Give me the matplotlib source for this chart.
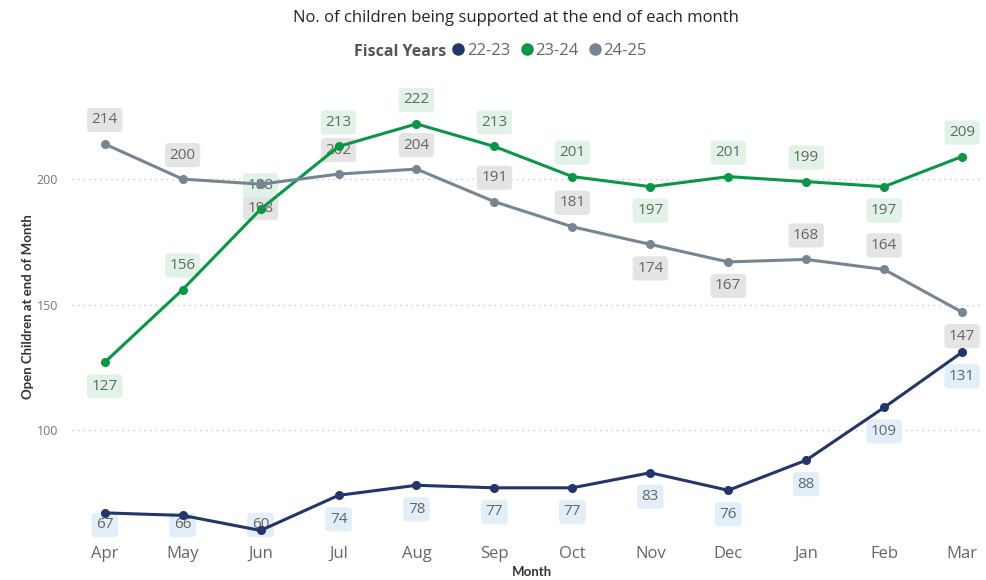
import matplotlib
matplotlib.use("Agg")
import matplotlib.pyplot as plt
from matplotlib.lines import Line2D

months = ["Apr", "May", "Jun", "Jul", "Aug", "Sep", "Oct", "Nov", "Dec", "Jan", "Feb", "Mar"]
fy_22_23 = [67, 66, 60, 74, 78, 77, 77, 83, 76, 88, 109, 131]
fy_23_24 = [127, 156, 188, 213, 222, 213, 201, 197, 201, 199, 197, 209]
fy_24_25 = [214, 200, 198, 202, 204, 191, 181, 174, 167, 168, 164, 147]
series_names = ["22-23", "23-24", "24-25"]
y_ticks = [100, 150, 200]

# label side per point: +1 above, -1 below
side_22_23 = [-1, -1, -1, -1, -1, -1, -1, -1, -1, -1, -1, -1]
side_23_24 = [-1, 1, 1, 1, 1, 1, 1, -1, 1, 1, -1, 1]
side_24_25 = [1, 1, -1, 1, 1, 1, 1, -1, -1, 1, 1, -1]

line_colors = ["#243569", "#0a9647", "#778592"]
box_colors = ["#e2eff8", "#e2f2e7", "#e4e4e4"]

plt.rcParams["font.family"] = ["Open Sans", "DejaVu Sans"]

DPI = 100
W, H = 987, 580
fig = plt.figure(figsize=(W / DPI, H / DPI), dpi=DPI)
ax = fig.add_axes([72 / W, 1 - 538 / H, (980 - 72) / W, (538 - 85) / H])

x = list(range(len(months)))
ax.set_xlim(-0.42, 11.23)
ax.set_ylim(57, 237.5)

all_series = [fy_24_25, fy_23_24, fy_22_23]
all_sides = [side_24_25, side_23_24, side_22_23]
all_idx = [2, 1, 0]

for vals, idx in zip(all_series, all_idx):
    ax.plot(x, vals, color=line_colors[idx], lw=2.2, marker="o", ms=5.5,
            zorder=4 + idx, solid_capstyle="round")

fig.canvas.draw()
bottom_px = ax.transAxes.transform((0, 0))[1]
offset = 24
for vals, sides, idx in zip(all_series, all_sides, all_idx):
    for xi, v, s in zip(x, vals, sides):
        px, py = ax.transData.transform((xi, v))
        ly = py + s * offset
        ly = max(ly, bottom_px + 13)
        tx, ty = ax.transData.inverted().transform((px, ly))
        ax.text(tx, ty, str(v), ha="center", va="center", fontsize=11,
                color="#666666", zorder=2,
                bbox=dict(boxstyle="round,pad=0.3,rounding_size=0.25",
                          fc=box_colors[idx], ec="none"))

for side in ax.spines.values():
    side.set_visible(False)
ax.set_yticks(y_ticks)
ax.set_yticklabels([str(t) for t in y_ticks], fontsize=9, color="#777777")
ax.set_xticks(x)
ax.set_xticklabels(months, fontsize=12, color="#666666")
ax.tick_params(length=0, pad=6)
ax.tick_params(axis="y", pad=10)
ax.grid(axis="y", color="#c8c8c8", lw=1, linestyle=(0, (1, 3)))
ax.set_axisbelow(True)

fig.text(28 / W, 1 - 307 / H, "Open Children at end of Month", rotation=90,
         ha="center", va="center", fontsize=9.5, fontweight="bold",
         color="#333333", family=["Lato", "DejaVu Sans"])
fig.text(532 / W, 1 - 572 / H, "Month", ha="center", va="center", fontsize=9.5,
         fontweight="bold", color="#333333", family=["Lato", "DejaVu Sans"])

fig.text(516 / W, 1 - 18 / H, "No. of children being supported at the end of each month",
         ha="center", va="center", fontsize=12, color="#252525")

fig.text(446 / W, 1 - 52 / H, "Fiscal Years", ha="right", va="center",
         fontsize=11.5, fontweight="bold", color="#555555")
handles = [Line2D([], [], marker="o", ls="none", ms=8, color=c) for c in line_colors]
fig.legend(handles, series_names, loc="center left", bbox_to_anchor=(450 / W, 1 - 51 / H),
           ncol=3, frameon=False, fontsize=12, labelcolor="#666666",
           handletextpad=0.0, columnspacing=0.5, handlelength=1.0, borderaxespad=0, borderpad=0)

fig.savefig("out.png", dpi=DPI, facecolor="white")
